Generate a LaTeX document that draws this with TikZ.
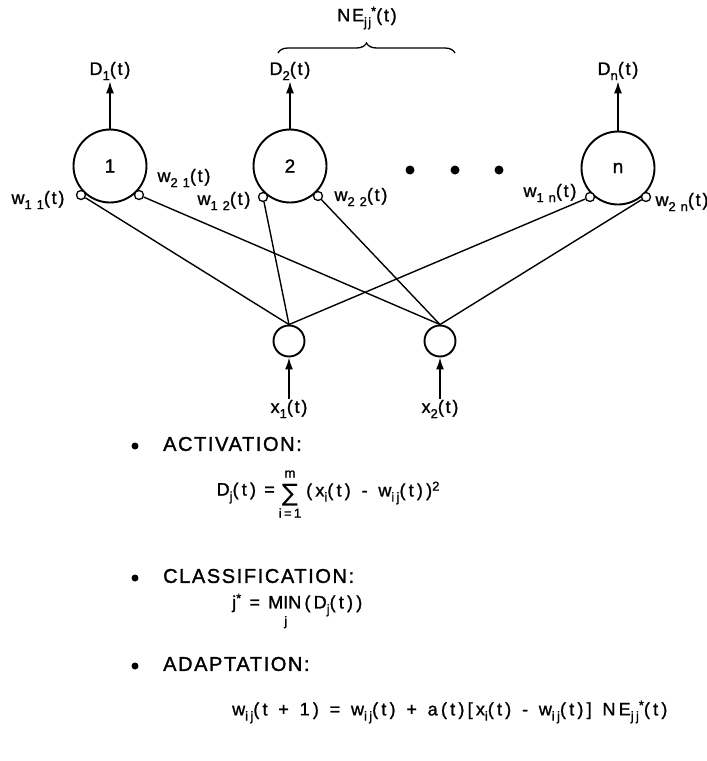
\documentclass[tikz,border=0pt]{standalone}
\usepackage{fontspec}
\setmainfont[FakeBold=1.2]{Liberation Sans}
\newfontfamily\spaced[LetterSpace=10,FakeBold=1.2]{Liberation Sans}
\newfontfamily\hspaced[LetterSpace=8,FakeBold=1.4]{Liberation Sans}
\newfontfamily\fspaced[LetterSpace=18,FakeBold=1.2]{Liberation Sans}
\newfontfamily\symfont{DejaVu Sans}
\usetikzlibrary{arrows.meta,decorations.pathreplacing}

% lowered / raised small text for indices
\newcommand\subfont{\fontsize{13}{13}\selectfont}
\newcommand\lo[1]{\raisebox{-0.55ex}{\subfont #1}}
\newcommand\hi[1]{\raisebox{0.6ex}{\subfont #1}}
% wide gap around operators in the formulas
\newcommand\gap{\hspace{0.6em}}

\begin{document}
\begin{tikzpicture}[x=1pt,y=-1pt,
  lab/.style={font=\spaced\fontsize{18}{18}\selectfont, inner sep=1pt},
  neuron/.style={circle, draw, line width=1.9pt, minimum size=73pt, inner sep=0pt,
                 font=\fontsize{19}{19}\selectfont},
  contact/.style={circle, draw, fill=white, line width=1.3pt, minimum size=9pt, inner sep=0pt},
  innode/.style={circle, draw, line width=1.9pt, minimum size=31pt, inner sep=0pt},
  wire/.style={line width=1.4pt},
  feed/.style={line width=1.6pt, -{Latex[length=12pt,width=8pt]}},
  blob/.style={circle, fill, minimum size=9pt, inner sep=0pt},
  bullet/.style={circle, fill, minimum size=7pt, inner sep=0pt},
  heading/.style={anchor=west, inner sep=0pt, font=\hspaced\fontsize{20}{20}\selectfont},
  formula/.style={inner sep=0pt, font=\fspaced\fontsize{18}{18}\selectfont},
  brace/.style={line width=1.3pt, decorate, decoration={brace, amplitude=10pt}},
]
\useasboundingbox (0,0) rectangle (707,761);

% output layer
\node[neuron] (n1) at (110,166) {1};
\node[neuron] (n2) at (290,166) {2};
\node[neuron] (nn) at (618,168) {n};
\node[blob] (dot1) at (410,170) {};
\node[blob] (dot2) at (455,170) {};
\node[blob] (dot3) at (499,170) {};

% outputs
\node[lab] (d1) at (110,71) {D\lo{1}(t)};
\node[lab] (d2) at (290,71) {D\lo{2}(t)};
\node[lab] (dn) at (618,71) {D\lo{n}(t)};
\draw[feed] (n1.north) -- (d1.south);
\draw[feed] (n2.north) -- (d2.south);
\draw[feed] (nn.north) -- (dn.south);

% neighbourhood brace
\coordinate (bl) at (278,53);
\coordinate (br) at (455,53);
\draw[brace] (bl) -- (br);
\node[lab] (ne) at (367,18) {NE\lo{jj}\hi{*}(t)};

% weight contacts
\node[contact] (c11) at (81,195) {};
\node[contact] (c21) at (139,195) {};
\node[contact] (c12) at (263,197) {};
\node[contact] (c22) at (318,196) {};
\node[contact] (c1n) at (590,197) {};
\node[contact] (c2n) at (646,197) {};

\node[lab] (w11) at (38,200) {w\lo{1 1}(t)};
\node[lab] (w21) at (184,178) {w\lo{2 1}(t)};
\node[lab] (w12) at (224,201) {w\lo{1 2}(t)};
\node[lab] (w22) at (361,197) {w\lo{2 2}(t)};
\node[lab] (w1n) at (550,193) {w\lo{1 n}(t)};
\node[lab] (w2n) at (682,202) {w\lo{2 n}(t)};

% input layer
\node[innode] (x1) at (289,341) {};
\node[innode] (x2) at (440,341) {};
\node[lab] (lx1) at (289,409) {x\lo{1}(t)};
\node[lab] (lx2) at (440,409) {x\lo{2}(t)};
\draw[feed] (lx1.north) -- (x1.south);
\draw[feed] (lx2.north) -- (x2.south);

% connections
\draw[wire] (c11) -- (x1.north);
\draw[wire] (c12) -- (x1.north);
\draw[wire] (c1n) -- (x1.north);
\draw[wire] (c21) -- (x2.north);
\draw[wire] (c22) -- (x2.north);
\draw[wire] (c2n) -- (x2.north);

% activation
\node[bullet] (b1) at (135,446) {};
\node[heading] (h1) at (163,444) {ACTIVATION:};
\node[formula, anchor=east] (fa1) at (275,493) {D\lo{j}(t) =\hspace{0.35em}};
\node[inner sep=0pt, font=\symfont\fontsize{24}{24}\selectfont] (sum) at (290,495) {∑};
\node[formula, font=\fspaced\subfont] (sumtop) at (290,474) {m};
\node[formula, font=\fspaced\subfont] (sumbot) at (290,513) {i=1};
\node[formula, anchor=west] (fa2) at (306,493) {(x\lo{i}(t)\gap-\gap w\lo{ij}(t))\hi{2}};

% classification
\node[bullet] (b2) at (135,578) {};
\node[heading] (h2) at (163,576) {CLASSIFICATION:};
\node[formula, anchor=west] (fc) at (232,611)
  {j\hi{*} = M\ooalign{I\cr\hidewidth\raisebox{-0.95em}{\subfont j}\hidewidth\cr}N(D\lo{j}(t))};

% adaptation
\node[bullet] (b3) at (135,666) {};
\node[heading] (h3) at (163,664) {ADAPTATION:};
\node[formula, anchor=west] (fw) at (232,712)
  {w\lo{ij}(t\gap+\gap1)\gap=\gap w\lo{ij}(t)\gap+\gap a(t)[x\lo{i}(t)\gap-\gap w\lo{ij}(t)]\gap NE\lo{jj}\hi{*}(t)};
\end{tikzpicture}
\end{document}
